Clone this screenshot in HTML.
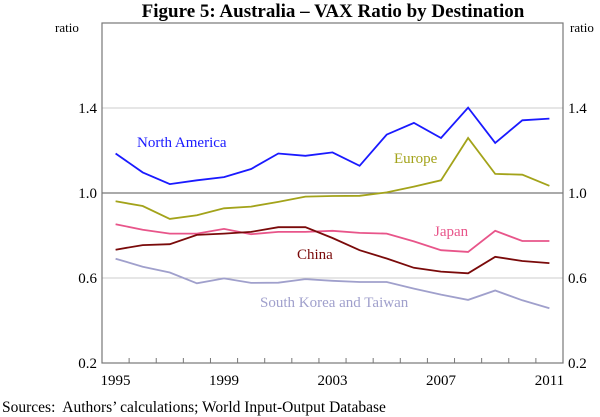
<!DOCTYPE html>
<html><head><meta charset="utf-8"><style>
body{margin:0;background:#fff}
svg{display:block;font-family:"Liberation Serif",serif}
</style></head><body>
<svg width="600" height="417" viewBox="0 0 600 417">
<text x="333" y="17" text-anchor="middle" font-size="19" font-weight="bold">Figure 5: Australia – VAX Ratio by Destination</text>
<g id="grid"></g>
<g id="series"></g>
<rect x="102" y="23" width="461" height="340" fill="none" stroke="#777" stroke-width="1.2"/>
<g id="axes"></g>
<text x="55" y="32" font-size="13">ratio</text>
<text x="570" y="32" font-size="13">ratio</text>
<text x="137" y="147" font-size="15" fill="#1a1aff">North America</text>
<text x="394" y="163" font-size="15" fill="#a3a31a">Europe</text>
<text x="434" y="236" font-size="15" fill="#e8558a">Japan</text>
<text x="297" y="259" font-size="15" fill="#7a0a0a">China</text>
<text x="260" y="307" font-size="15" fill="#a0a0cc">South Korea and Taiwan</text>
<text x="2" y="412" font-size="15.5" xml:space="preserve">Sources:  Authors’ calculations; World Input-Output Database</text>
</svg>
<script>
const years=[1995,1996,1997,1998,1999,2000,2001,2002,2003,2004,2005,2006,2007,2008,2009,2010,2011];
const northAmerica=[1.186,1.097,1.042,1.060,1.075,1.113,1.186,1.175,1.191,1.128,1.275,1.330,1.259,1.402,1.236,1.342,1.350];
const europe=[0.961,0.939,0.878,0.895,0.928,0.936,0.958,0.983,0.986,0.987,1.003,1.030,1.060,1.259,1.090,1.086,1.034];
const japan=[0.853,0.827,0.809,0.809,0.831,0.806,0.817,0.817,0.822,0.812,0.809,0.772,0.731,0.723,0.822,0.774,0.774];
const china=[0.733,0.755,0.759,0.803,0.809,0.817,0.839,0.839,0.788,0.731,0.692,0.648,0.630,0.622,0.700,0.680,0.670];
const skTaiwan=[0.691,0.653,0.626,0.575,0.598,0.577,0.578,0.595,0.587,0.581,0.581,0.550,0.522,0.497,0.541,0.495,0.458];
const yTicks=[0.2,0.6,1.0,1.4];
const xLabels=[1995,1999,2003,2007,2011];
const NS="http://www.w3.org/2000/svg";
const L=102,R=563,T=23,B=363,ymin=0.2,ymax=1.8;
const bw=(R-L)/years.length;
function x(yr){return L+(years.indexOf(yr)+0.5)*bw;}
function y(v){return B-(v-ymin)/(ymax-ymin)*(B-T);}
function mk(t,a,p){const e=document.createElementNS(NS,t);for(const k in a)e.setAttribute(k,a[k]);p.appendChild(e);return e;}
const grid=document.getElementById('grid'),axes=document.getElementById('axes'),ser=document.getElementById('series');
yTicks.forEach(v=>{
  if(v>ymin){const g=mk('line',{x1:L,x2:R,y1:y(v),y2:y(v),stroke:v===1?'#777':'#ccc','stroke-width':v===1?1.2:1},grid);
  
  }
  const t1=mk('text',{x:97,y:y(v)+5,'text-anchor':'end','font-size':15},axes);t1.textContent=v.toFixed(1);
  
  
  const t2=mk('text',{x:568,y:y(v)+5,'font-size':15},axes);t2.textContent=v.toFixed(1);
  
  
});
for(let i=1;i<years.length;i++){
  const tx=L+i*bw;
  const tk=mk('line',{x1:tx,x2:tx,y1:B,y2:B-5,stroke:'#777'},axes);
  
  
}
xLabels.forEach(yr=>{
  const t=mk('text',{x:x(yr),y:385,'text-anchor':'middle','font-size':15},axes);t.textContent=yr;
  
  
});
[[northAmerica,'#1a1aff','line-north-america'],[europe,'#a3a31a','line-europe'],[japan,'#e8558a','line-japan'],[china,'#7a0a0a','line-china'],[skTaiwan,'#a0a0cc','line-south-korea-taiwan']].forEach(([d,c,n])=>{
  const pts=d.map((v,i)=>x(years[i]).toFixed(1)+','+y(v).toFixed(1)).join(' ');
  const p=mk('polyline',{points:pts,fill:'none',stroke:c,'stroke-width':1.8},ser);
  
  
});
</script>
</body></html>
